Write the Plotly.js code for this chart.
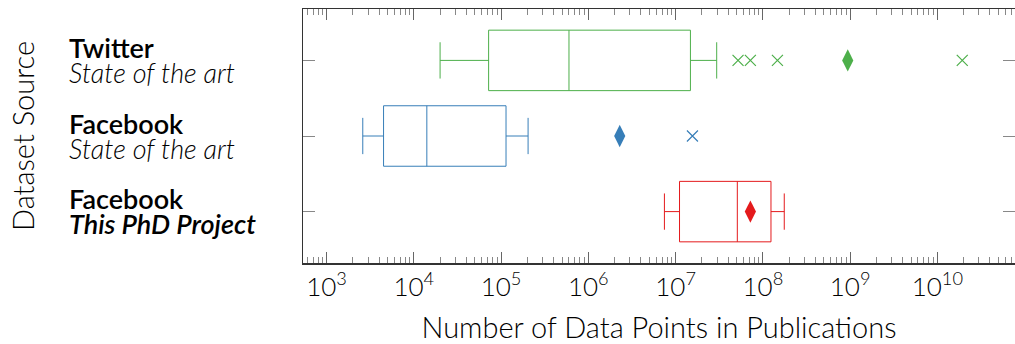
<!DOCTYPE html>
<html><head><meta charset="utf-8">
<script src="https://cdn.plot.ly/plotly-3.0.1.min.js"></script>
<style>html,body{margin:0;padding:0;background:#fff;}#chart{width:1015px;height:344px;}</style>
</head><body><div id="chart"></div>
<script>
// categories (top to bottom)
const categories = ['tw_soa', 'fb_soa', 'fb_phd'];
const catSource = ['Twitter', 'Facebook', 'Facebook'];
const catDetail = ['State of the art', 'State of the art', 'This PhD Project'];
const colors = ['#4daf4a', '#377eb8', '#e41a1c'];
// box statistics
const lowerWhisker = [2.0e4, 2.6e3, 7.45e6];
const q1Values = [7.2e4, 4.5e3, 1.11e7];
const medianValues = [6.0e5, 1.41e4, 5.1e7];
const q3Values = [1.48e7, 1.14e5, 1.24e8];
const upperWhisker = [2.96e7, 2.04e5, 1.76e8];
const meanValues = [9.4e8, 2.29e6, 7.2e7];
// outliers
const twitterOutliers = [5.2e7, 7.2e7, 1.47e8, 1.93e10];
const facebookSoaOutliers = [1.56e7];
const facebookPhdOutliers = [];
const outliers = [twitterOutliers, facebookSoaOutliers, facebookPhdOutliers];
// tick labels
const tickValues = [1e3, 1e4, 1e5, 1e6, 1e7, 1e8, 1e9, 1e10];
const tickLabels = ['10<sup>3</sup>', '10<sup>4</sup>', '10<sup>5</sup>', '10<sup>6</sup>', '10<sup>7</sup>', '10<sup>8</sup>', '10<sup>9</sup>', '10<sup>10</sup>'];

const FONT = 'Lato, "DejaVu Sans", sans-serif';
const traces = [];
categories.forEach((c, i) => {
  traces.push({
    type: 'box', orientation: 'h', y: [c],
    q1: [q1Values[i]], median: [medianValues[i]], q3: [q3Values[i]],
    lowerfence: [lowerWhisker[i]], upperfence: [upperWhisker[i]],
    width: 0.8, whiskerwidth: 0.6,
    line: {color: colors[i], width: 1}, fillcolor: 'rgba(0,0,0,0)',
    boxpoints: false, hoverinfo: 'skip', showlegend: false
  });
  if (outliers[i].length) {
    traces.push({
      type: 'scatter', mode: 'markers', x: outliers[i], y: outliers[i].map(() => c),
      marker: {symbol: 'x-thin-open', size: 11, color: colors[i], line: {color: colors[i], width: 1.2}},
      showlegend: false, hoverinfo: 'skip'
    });
  }
  traces.push({
    type: 'scatter', mode: 'markers', x: [meanValues[i]], y: [c],
    marker: {symbol: 'diamond-tall', size: 16, color: colors[i], line: {width: 0}},
    showlegend: false, hoverinfo: 'skip'
  });
});

const labelX = (68 - 303) / 712;
const annotations = [];
categories.forEach((c, i) => {
  annotations.push({
    xref: 'paper', yref: 'y', x: labelX, y: c, yshift: 13, xanchor: 'left', yanchor: 'middle',
    showarrow: false, text: catSource[i], borderpad: 0,
    font: {family: FONT, size: 27, color: '#000', weight: 600}
  });
  annotations.push({
    xref: 'paper', yref: 'y', x: labelX, y: c, yshift: -12, xanchor: 'left', yanchor: 'middle',
    showarrow: false, text: '<i>' + catDetail[i] + '</i>', borderpad: 0,
    font: {family: FONT, size: 27, color: '#000', weight: i === 2 ? 600 : 300}
  });
});
annotations.push({
  xref: 'paper', yref: 'paper', x: (22 - 303) / 712, y: 0.5, xanchor: 'center', yanchor: 'middle',
  textangle: -90, showarrow: false, text: 'Dataset Source',
  font: {family: FONT, size: 29, color: '#000', weight: 300}
});

const layout = {
  width: 1015, height: 344,
  margin: {l: 303, r: 0, t: 9, b: 81},
  paper_bgcolor: '#fff', plot_bgcolor: '#fff',
  font: {family: FONT, color: '#000'},
  showlegend: false,
  xaxis: {
    type: 'log', range: [2.73, 10.89],
    tickmode: 'array', tickvals: tickValues, ticktext: tickLabels,
    ticks: 'inside', ticklen: 11, tickwidth: 1, tickcolor: '#666',
    minor: {ticks: 'inside', ticklen: 6, tickwidth: 1, tickcolor: '#888', dtick: 'D1', showgrid: false},
    showline: true, linecolor: '#333', linewidth: 1.5, mirror: 'ticks',
    showgrid: false, zeroline: false,
    tickfont: {family: FONT, size: 26, color: '#000', weight: 300},
    title: {text: 'Number of Data Points in Publications', font: {family: FONT, size: 29, color: '#000', weight: 300}, standoff: 18}
  },
  yaxis: {
    type: 'category', categoryorder: 'array', categoryarray: categories,
    range: [2.68, -0.68],
    ticks: 'inside', ticklen: 12, tickwidth: 1, tickcolor: '#888',
    showticklabels: false,
    showline: true, linecolor: '#333', linewidth: 1.5, mirror: 'ticks',
    showgrid: false, zeroline: false
  },
  annotations: annotations
};

Plotly.newPlot('chart', traces, layout, {staticPlot: true, displayModeBar: false});
</script>
</body></html>
